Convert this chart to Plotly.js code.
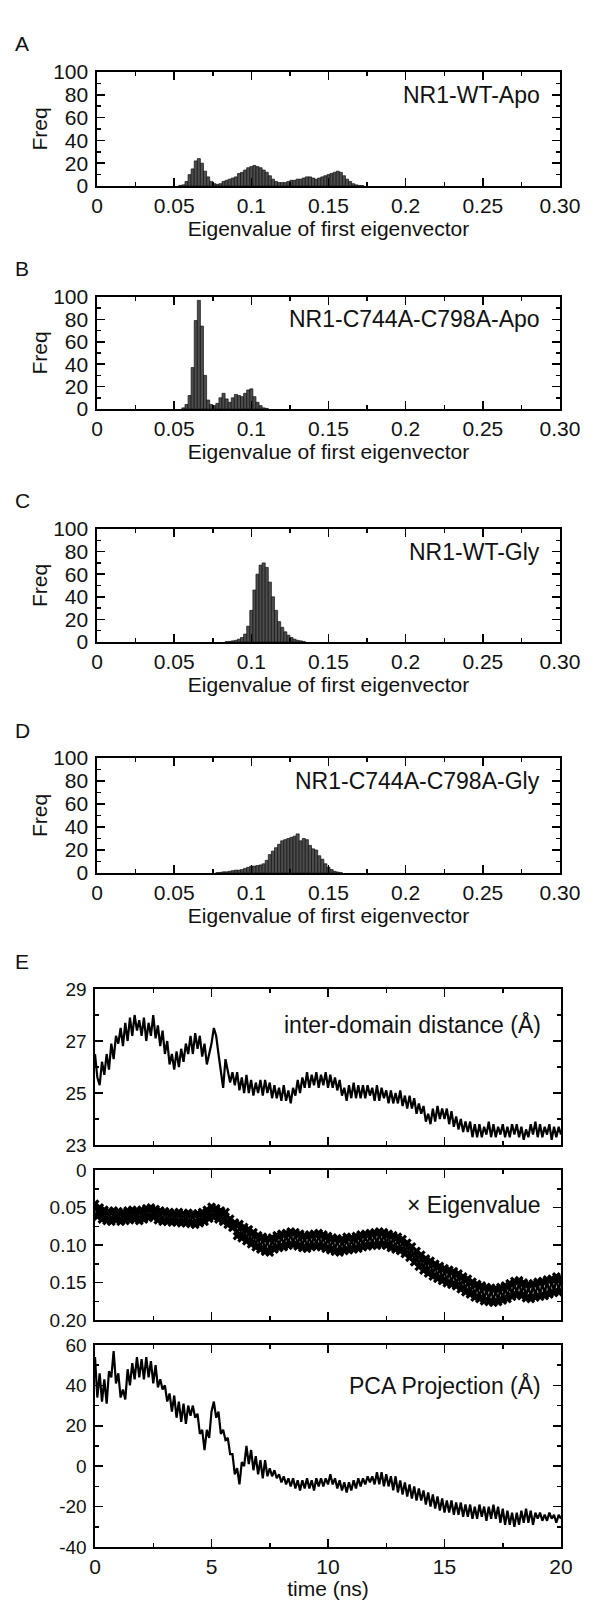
<!DOCTYPE html>
<html><head><meta charset="utf-8">
<script src="https://cdn.plot.ly/plotly-3.0.1.min.js"></script>
<style>body{margin:0;background:#fff}</style>
</head><body><div id="chart" style="width:594px;height:1600px"></div>
<script>
// ---------- DATA ----------
const binsA = [0.054,0.056,0.058,0.060,0.062,0.064,0.066,0.068,0.070,0.072,0.074,0.076,0.078,0.080,0.082,0.084,0.086,0.088,0.090,0.092,0.094,0.096,0.098,0.100,0.102,0.104,0.106,0.108,0.110,0.112,0.114,0.116,0.118,0.120,0.122,0.124,0.126,0.128,0.130,0.132,0.134,0.136,0.138,0.140,0.142,0.144,0.146,0.148,0.150,0.152,0.154,0.156,0.158,0.160,0.162,0.164,0.166,0.168,0.170,0.172];
const freqA = [0.5,1,4,10,15,22,24,20,13,8,4,2,1.5,2,4,5,6,7,8,11,12,14,16,17,18,17,16,14,12,9,6,4,3,3,3,4,5,5,6,6,7,8,8,7,6,7,8,9,10,11,12,13,12,9,6,4,2,1,0.5,0.3];

const binsB = [0.056,0.058,0.060,0.062,0.064,0.066,0.068,0.070,0.072,0.074,0.076,0.078,0.080,0.082,0.084,0.086,0.088,0.090,0.092,0.094,0.096,0.098,0.100,0.102,0.104,0.106,0.108,0.110];
const freqB = [1,4,12,37,79,97,74,30,8,4,3,5,10,14,9,6,10,13,12,11,14,17,18,11,6,3,1,0.5];

const binsC = [0.084,0.086,0.088,0.090,0.092,0.094,0.096,0.098,0.100,0.102,0.104,0.106,0.108,0.110,0.112,0.114,0.116,0.118,0.120,0.122,0.124,0.126,0.128,0.130,0.132,0.134];
const freqC = [0.3,0.5,1,1.5,2.5,4,7,14,28,46,60,68,70,66,53,40,28,18,13,9,6,4,2.5,1.5,1,0.5];

const binsD = [0.078,0.080,0.082,0.084,0.086,0.088,0.090,0.092,0.094,0.096,0.098,0.100,0.102,0.104,0.106,0.108,0.110,0.112,0.114,0.116,0.118,0.120,0.122,0.124,0.126,0.128,0.130,0.132,0.134,0.136,0.138,0.140,0.142,0.144,0.146,0.148,0.150,0.152,0.154,0.156,0.158];
const freqD = [0.3,0.5,1,1,1.5,2,2.5,2.5,3,4,5,6,6,6.5,7,8,11,16,19,22,25,28,29,30,31,32,34,28,30,29,24,21,20,15,12,8,5,3,1.5,0.8,0.3];

const histTickVals = [0,0.05,0.1,0.15,0.2,0.25,0.3];
const histTickText = ['0','0.05','0.1','0.15','0.2','0.25','0.30'];
const histLabels = ['NR1-WT-Apo','NR1-C744A-C798A-Apo','NR1-WT-Gly','NR1-C744A-C798A-Gly'];
const panelLetters = ['A','B','C','D','E'];

// time series sampled every 0.1 ns from 0 to 20 ns
const timeStart = 0, timeStep = 0.1;
const distance = [
26.5,25.6,25.3,26.2,25.7,26.5,25.9,26.9,26.3,27.2,
26.9,27.5,26.8,27.7,27.0,27.9,27.2,28.0,27.4,27.8,
27.2,27.9,27.0,27.7,27.2,28.0,27.1,27.6,26.8,27.4,
26.5,27.0,26.1,26.5,25.9,26.6,26.0,26.7,26.2,26.9,
26.5,27.2,26.5,27.3,26.7,27.2,26.4,26.9,26.1,26.5,
26.9,27.5,27.2,26.5,25.8,25.2,26.3,25.8,25.4,25.8,
25.3,25.8,25.1,25.6,25.0,25.7,25.0,25.5,24.9,25.4,
25.0,25.5,24.9,25.5,25.0,25.4,24.8,25.3,24.8,25.2,
24.7,25.3,24.7,25.1,24.6,25.2,24.9,25.5,25.0,25.6,
25.2,25.8,25.2,25.7,25.3,25.8,25.2,25.7,25.3,25.8,
25.2,25.7,25.2,25.6,25.1,25.5,24.9,25.2,24.7,25.3,
24.8,25.4,24.8,25.3,24.8,25.3,24.8,25.3,24.9,25.2,
24.7,25.3,24.7,25.2,24.8,25.1,24.6,25.1,24.6,25.0,
24.6,25.1,24.5,24.9,24.4,24.9,24.4,24.8,24.2,24.6,
24.2,24.5,23.9,24.2,23.8,24.4,23.9,24.5,24.0,24.4,
24.0,24.4,23.8,24.3,23.7,24.1,23.6,24.0,23.5,23.9,
23.5,23.9,23.3,23.8,23.3,23.8,23.3,23.7,23.4,23.9,
23.3,23.8,23.3,23.7,23.4,23.8,23.3,23.7,23.3,23.8,
23.4,23.8,23.3,23.7,23.2,23.6,23.3,23.8,23.4,23.9,
23.3,23.8,23.3,23.7,23.4,23.8,23.2,23.7,23.3,23.7,
23.4];
const eigenvalue = [
0.045,0.062,0.050,0.066,0.053,0.068,0.055,0.069,0.054,0.067,
0.055,0.069,0.056,0.068,0.054,0.067,0.053,0.066,0.054,0.068,
0.053,0.066,0.051,0.064,0.050,0.063,0.052,0.067,0.054,0.069,
0.055,0.069,0.056,0.070,0.057,0.070,0.056,0.071,0.058,0.071,
0.057,0.072,0.058,0.073,0.058,0.071,0.056,0.069,0.053,0.065,
0.049,0.063,0.051,0.066,0.054,0.069,0.056,0.073,0.065,0.077,
0.070,0.088,0.072,0.091,0.076,0.095,0.079,0.099,0.083,0.103,
0.087,0.106,0.089,0.109,0.091,0.110,0.090,0.106,0.087,0.104,
0.085,0.103,0.084,0.101,0.082,0.100,0.083,0.102,0.085,0.104,
0.087,0.105,0.086,0.103,0.085,0.102,0.084,0.103,0.086,0.105,
0.088,0.107,0.090,0.109,0.091,0.110,0.092,0.108,0.089,0.107,
0.090,0.106,0.088,0.105,0.086,0.103,0.085,0.102,0.084,0.101,
0.083,0.101,0.082,0.100,0.083,0.101,0.085,0.104,0.087,0.106,
0.089,0.108,0.092,0.112,0.097,0.117,0.102,0.123,0.108,0.129,
0.113,0.134,0.118,0.138,0.121,0.142,0.125,0.145,0.128,0.148,
0.131,0.151,0.133,0.153,0.135,0.155,0.138,0.159,0.142,0.163,
0.145,0.166,0.149,0.170,0.152,0.172,0.154,0.175,0.156,0.176,
0.157,0.177,0.158,0.176,0.156,0.174,0.154,0.172,0.151,0.169,
0.148,0.167,0.147,0.168,0.150,0.171,0.152,0.172,0.151,0.170,
0.149,0.169,0.148,0.168,0.146,0.166,0.145,0.164,0.142,0.163,
0.144];
const pcaProjection = [
54,34,46,32,43,31,47,44,57,41,
46,34,38,33,48,40,51,43,54,44,
53,43,54,44,52,41,50,39,43,38,
40,32,36,27,35,24,32,22,31,21,
30,25,30,24,26,16,18,8,18,14,
27,32,24,27,16,18,13,14,6,6,
-4,-1,-9,2,0,10,1,8,-2,5,
-4,3,-6,3,-5,-1,-5,-2,-6,-4,
-8,-5,-9,-6,-10,-6,-11,-7,-12,-7,
-11,-6,-11,-7,-12,-6,-10,-6,-10,-6,
-9,-4,-9,-6,-11,-7,-12,-8,-13,-8,
-12,-7,-11,-6,-10,-6,-9,-5,-8,-5,
-9,-3,-9,-3,-10,-4,-10,-5,-12,-5,
-13,-7,-14,-8,-15,-9,-16,-10,-17,-11,
-17,-12,-19,-13,-20,-14,-21,-15,-22,-16,
-23,-17,-23,-17,-24,-18,-24,-18,-25,-19,
-25,-19,-26,-20,-26,-19,-25,-20,-27,-20,
-26,-19,-26,-20,-28,-21,-29,-22,-29,-23,
-30,-23,-29,-22,-28,-21,-28,-22,-29,-23,
-26,-23,-27,-24,-27,-23,-26,-24,-28,-24,
-26];
const eTexts = ['inter-domain distance (Å)','× Eigenvalue','PCA Projection (Å)'];
const pcaTickVals = [-40,-20,0,20,40,60];
const pcaTickText = ['-40','-20','0','20','40','60'];

// ---------- LAYOUT ----------
const W = 594, H = 1600;
const FONT = 'Liberation Sans, Arial, Helvetica, sans-serif';
const fs = 21;
const efs = 19;
const yd = (top, bot) => [1 - bot / H, 1 - top / H];
const xd = (l, r) => [l / W, r / W];

const histBoxes = [[72,186],[297,409],[529,642],[758,873]];
const histX = xd(97, 560);
const eBoxes = [[989,1145],[1170,1320],[1345,1547]];
const eX = xd(95, 561);
const letterY = [44, 269, 500, 730, 962];

const minorTick = {ticks: 'inside', ticklen: 4, tickwidth: 1.5, tickcolor: '#000'};
const axBase = {
  showline: true, linecolor: '#000', linewidth: 1.6, mirror: 'ticks',
  ticks: 'inside', ticklen: 8, tickwidth: 1.5, tickcolor: '#000',
  showgrid: false, zeroline: false, fixedrange: true,
  tickfont: {family: FONT, size: fs, color: '#111'}
};

const data = [];
const layout = {
  width: W, height: H, margin: {l:0, r:0, t:0, b:0},
  paper_bgcolor: '#fff', plot_bgcolor: '#fff', showlegend: false,
  font: {family: FONT, size: fs, color: '#111'},
  bargap: 0, annotations: []
};

const hists = [[binsA,freqA],[binsB,freqB],[binsC,freqC],[binsD,freqD]];
hists.forEach((h, i) => {
  const n = i + 1;
  const xa = n === 1 ? 'x' : 'x' + n, ya = n === 1 ? 'y' : 'y' + n;
  data.push({type: 'bar', x: h[0], y: h[1], width: 0.002, xaxis: xa, yaxis: ya,
    marker: {color: '#4d4d4d', line: {color: '#111', width: 0.7}}, hoverinfo: 'skip'});
  const xk = n === 1 ? 'xaxis' : 'xaxis' + n, yk = n === 1 ? 'yaxis' : 'yaxis' + n;
  layout[xk] = Object.assign({}, axBase, {
    domain: histX, anchor: ya, range: [0, 0.3],
    tickmode: 'array', tickvals: histTickVals, ticktext: histTickText,
    minor: Object.assign({tickmode: 'linear', tick0: 0, dtick: 0.025}, minorTick),
    title: {text: 'Eigenvalue of first eigenvector', font: {family: FONT, size: fs}, standoff: 0}
  });
  layout[yk] = Object.assign({}, axBase, {
    domain: yd(histBoxes[i][0], histBoxes[i][1]), anchor: xa, range: [0, 100],
    tickmode: 'linear', tick0: 0, dtick: 20, ticklabelstandoff: 3,
    minor: Object.assign({tickmode: 'linear', tick0: 0, dtick: 10}, minorTick),
    title: {text: 'Freq', font: {family: FONT, size: fs}, standoff: 0}
  });
  layout.annotations.push({xref: xa + ' domain', yref: ya + ' domain', x: 0.962, y: 0.8,
    xanchor: 'right', yanchor: 'middle', text: histLabels[i], showarrow: false,
    font: {family: FONT, size: 23, color: '#111'}});
});

const series = [distance, eigenvalue, pcaProjection];
const eTextY = [0.77, 0.77, 0.8];
series.forEach((s, j) => {
  const n = j + 5;
  const tr = {type: 'scatter', x0: timeStart, dx: timeStep, y: s, xaxis: 'x' + n, yaxis: 'y' + n,
    mode: 'lines', line: {color: '#000', width: 2.2}, hoverinfo: 'skip'};
  if (j === 1) {
    tr.mode = 'lines+markers';
    tr.line.width = 2.2;
    tr.marker = {symbol: 'x', size: 8, color: '#000'};
  }
  data.push(tr);
  layout['xaxis' + n] = Object.assign({}, axBase, {
    domain: eX, anchor: 'y' + n, range: [0, 20], tickmode: 'linear', tick0: 0, dtick: 5,
    showticklabels: j === 2,
    minor: Object.assign({tickmode: 'linear', tick0: 0, dtick: 2.5}, minorTick)
  });
  if (j === 2) layout['xaxis' + n].title = {text: 'time (ns)', font: {family: FONT, size: fs}, standoff: 3};
  const ya = {domain: yd(eBoxes[j][0], eBoxes[j][1]), anchor: 'x' + n, ticklabelstandoff: 3,
    tickfont: {family: FONT, size: efs, color: '#111'}};
  if (j === 0) Object.assign(ya, {range: [23, 29], tickmode: 'array', tickvals: [23,25,27,29],
    minor: Object.assign({tickmode: 'linear', tick0: 23, dtick: 1}, minorTick)});
  if (j === 1) Object.assign(ya, {range: [0.2, 0], tickmode: 'array', tickvals: [0,0.05,0.1,0.15,0.2],
    ticktext: ['0','0.05','0.10','0.15','0.20'],
    minor: Object.assign({tickmode: 'linear', tick0: 0, dtick: 0.025}, minorTick)});
  if (j === 2) Object.assign(ya, {range: [-40, 60], tickmode: 'array', tickvals: pcaTickVals, ticktext: pcaTickText,
    minor: Object.assign({tickmode: 'linear', tick0: -40, dtick: 10}, minorTick)});
  layout['yaxis' + n] = Object.assign({}, axBase, ya);
  layout.annotations.push({xref: 'x' + n + ' domain', yref: 'y' + n + ' domain', x: 0.962,
    y: eTextY[j], xanchor: 'right', yanchor: 'middle', text: eTexts[j], showarrow: false,
    font: {family: FONT, size: 23, color: '#111'}});
});

panelLetters.forEach((L, k) => {
  layout.annotations.push({xref: 'paper', yref: 'paper', x: 13 / W, y: 1 - letterY[k] / H,
    xanchor: 'left', yanchor: 'middle', text: L, showarrow: false,
    font: {family: FONT, size: 21, color: '#111'}});
});

Plotly.newPlot('chart', data, layout, {staticPlot: true, displayModeBar: false});
</script></body></html>
